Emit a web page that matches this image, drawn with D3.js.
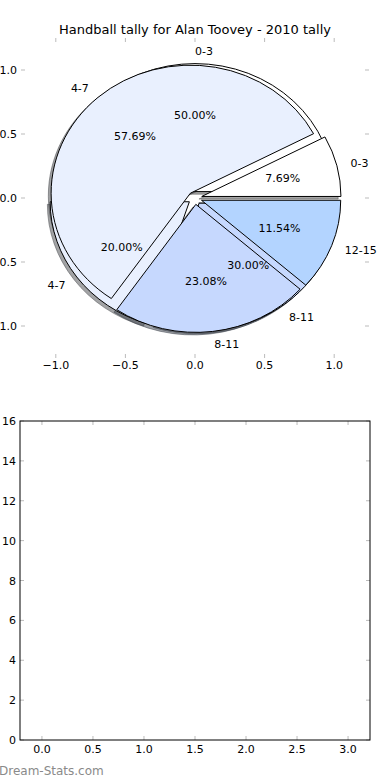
<!DOCTYPE html>
<html>
<head>
<meta charset="utf-8">
<script src="https://cdn.jsdelivr.net/npm/d3@7"></script>
<style>
  body { margin: 0; background: #fff; }
  text { font-family: "DejaVu Sans", sans-serif; }
</style>
</head>
<body>
<svg id="chart" width="390" height="780"></svg>
<script>
// pie drawn last (on top)
var ageGroups = ['0-3', '4-7', '8-11', '12-15'];
var tally2010 = [2, 15, 6, 3];
// pie drawn first (underneath)
var ageGroupsB = ['0-3', '4-7', '8-11'];
var tallyB = [5, 2, 3];
var sliceColors = ['#ffffff', '#e9f0fe', '#c6d8fe', '#b3d4ff'];

var pieTicks = [-1.0, -0.5, 0.0, 0.5, 1.0];
var barXTicks = [0.0, 0.5, 1.0, 1.5, 2.0, 2.5, 3.0];
var barYTicks = [0, 2, 4, 6, 8, 10, 12, 14, 16];

var svg = d3.select('#chart');
var fmt1 = d3.format('.1f');

// ---------- top: pie axes ----------
var x = d3.scaleLinear().domain([-1.25, 1.25]).range([21, 369]);
var y = d3.scaleLinear().domain([-1.25, 1.25]).range([358, 38]);

svg.append('text')
    .attr('x', 195).attr('y', 34)
    .attr('text-anchor', 'middle')
    .style('font-size', '13px')
    .text('Handball tally for Alan Toovey - 2010 tally');

// tick marks (frame is off, ticks are kept)
var tickG = svg.append('g').attr('stroke', '#bbb').attr('stroke-width', 1);
pieTicks.forEach(function(t) {
    tickG.append('line').attr('x1', x(t)).attr('x2', x(t)).attr('y1', 38).attr('y2', 42);
    tickG.append('line').attr('x1', x(t)).attr('x2', x(t)).attr('y1', 358).attr('y2', 354);
    tickG.append('line').attr('y1', y(t)).attr('y2', y(t)).attr('x1', 21).attr('x2', 25);
    tickG.append('line').attr('y1', y(t)).attr('y2', y(t)).attr('x1', 369).attr('x2', 365);
});
pieTicks.forEach(function(t) {
    svg.append('text')
        .attr('x', x(t)).attr('y', 369)
        .attr('text-anchor', 'middle')
        .style('font-size', '11px')
        .text(fmt1(t).replace('-', '\u2212'));
    svg.append('text')
        .attr('x', 17).attr('y', y(t) + 4)
        .attr('text-anchor', 'end')
        .style('font-size', '11px')
        .text(fmt1(t).replace('-', '\u2212'));
});

var sx = x(1) - x(0), sy = y(1) - y(0);
var pieG = svg.append('g')
    .attr('transform', 'translate(' + x(0) + ',' + y(0) + ') scale(' + sx + ',' + sy + ')');
var shadowLayer = pieG.append('g');
var wedgeLayer = pieG.append('g');
var textLayer = svg.append('g');

var arc = d3.arc().innerRadius(0).outerRadius(1);

function slices(values) {
    var total = d3.sum(values), acc = 0;
    return values.map(function(v, i) {
        var t1 = acc / total * 2 * Math.PI;
        acc += v;
        var t2 = acc / total * 2 * Math.PI;
        return {i: i, value: v, frac: v / total, t1: t1, t2: t2, mid: (t1 + t2) / 2};
    });
}

function drawPie(values, labels) {
    var data = slices(values);
    data.forEach(function(d) {
        var ex = 0.05 * Math.cos(d.mid), ey = 0.05 * Math.sin(d.mid);
        // y is flipped by the group scale, so counter-clockwise angle t maps to pi/2 + t
        var path = arc({startAngle: Math.PI / 2 + d.t1, endAngle: Math.PI / 2 + d.t2});
        var c = d3.rgb(sliceColors[d.i]);
        var sc = d3.rgb(c.r * 0.3, c.g * 0.3, c.b * 0.3);
        shadowLayer.append('path')
            .attr('d', path)
            .attr('transform', 'translate(' + (ex - 0.02) + ',' + (ey - 0.02) + ')')
            .attr('fill', sc)
            .attr('fill-opacity', 0.5)
            .attr('stroke', sc)
            .attr('stroke-opacity', 0.5)
            .attr('vector-effect', 'non-scaling-stroke')
            .attr('stroke-width', 1);
        wedgeLayer.append('path')
            .attr('d', path)
            .attr('transform', 'translate(' + ex + ',' + ey + ')')
            .attr('fill', sliceColors[d.i])
            .attr('stroke', '#000')
            .attr('stroke-width', 1)
            .attr('vector-effect', 'non-scaling-stroke')
            .attr('stroke-linejoin', 'miter');

        var lx = ex + 1.1 * Math.cos(d.mid), ly = ey + 1.1 * Math.sin(d.mid);
        textLayer.append('text')
            .attr('x', x(lx)).attr('y', y(ly) + 4)
            .attr('text-anchor', lx > 0 ? 'start' : 'end')
            .style('font-size', '11px')
            .text(labels[d.i]);
        var px = ex + 0.6 * Math.cos(d.mid), py = ey + 0.6 * Math.sin(d.mid);
        textLayer.append('text')
            .attr('x', x(px)).attr('y', y(py) + 4)
            .attr('text-anchor', 'middle')
            .style('font-size', '11px')
            .text((d.frac * 100).toFixed(2) + '%');
    });
}

drawPie(tallyB, ageGroupsB);
drawPie(tally2010, ageGroups);

// ---------- bottom: empty bar axes ----------
var bx = d3.scaleLinear().domain([-0.215, 3.215]).range([20, 370]);
var by = d3.scaleLinear().domain([0, 16]).range([740, 421]);

var btG = svg.append('g').attr('stroke', '#bbb').attr('stroke-width', 1);
barXTicks.forEach(function(t) {
    btG.append('line').attr('x1', bx(t)).attr('x2', bx(t)).attr('y1', 421).attr('y2', 425);
    btG.append('line').attr('x1', bx(t)).attr('x2', bx(t)).attr('y1', 740).attr('y2', 736);
    svg.append('text')
        .attr('x', bx(t)).attr('y', 753)
        .attr('text-anchor', 'middle')
        .style('font-size', '11px')
        .text(fmt1(t));
});
barYTicks.forEach(function(t) {
    btG.append('line').attr('y1', by(t)).attr('y2', by(t)).attr('x1', 20).attr('x2', 24);
    btG.append('line').attr('y1', by(t)).attr('y2', by(t)).attr('x1', 370).attr('x2', 366);
    svg.append('text')
        .attr('x', 16).attr('y', by(t) + 4)
        .attr('text-anchor', 'end')
        .style('font-size', '11px')
        .text(t);
});
svg.append('rect')
    .attr('x', 20).attr('y', 421)
    .attr('width', 350).attr('height', 319)
    .attr('fill', 'none')
    .attr('stroke', '#000')
    .attr('stroke-width', 1);

svg.append('text')
    .attr('x', -1).attr('y', 775)
    .style('font-size', '12px')
    .attr('fill', '#8a8a8a')
    .text('Dream-Stats.com');
</script>
</body>
</html>
